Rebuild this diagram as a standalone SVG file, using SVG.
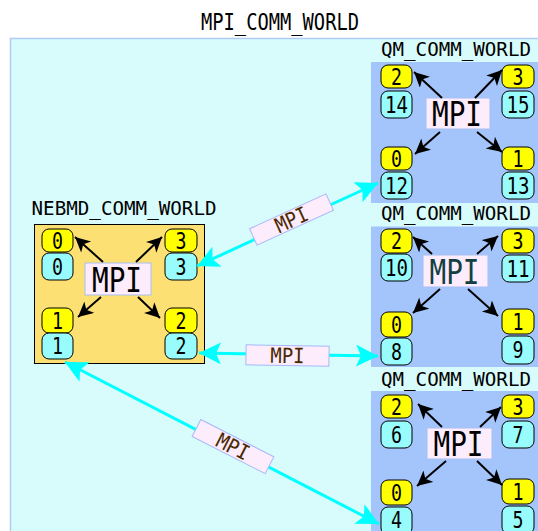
<svg xmlns="http://www.w3.org/2000/svg" width="538" height="531" viewBox="0 0 538 531">
<defs>
<style>
text{font-family:"DejaVu Sans Mono","Liberation Mono",monospace;fill:#000;text-anchor:middle}
.world{fill:#d8fcfc;stroke:#b0ccf4;stroke-width:1.5}
.qm{fill:#a4c4fc}
.neb{fill:#fde073;stroke:#000;stroke-width:1}
.y{fill:#ffff00;stroke:#000;stroke-width:1}
.c{fill:#98fcfc;stroke:#000;stroke-width:1}
.mpi{fill:#fcecfc;stroke:#a8c0f0;stroke-width:1}
.lbl{fill:#fcecfc;stroke:#a8b8f8;stroke-width:1}
.t20{font-size:20px}
.d{font-size:23px}
.big{font-size:34px}
.lt{font-size:21px;fill:#4a2800}
.blk{stroke:#000;stroke-width:2;fill:none;marker-end:url(#ah)}
.cy{stroke:#00ffff;stroke-width:3;fill:none;marker-start:url(#ch);marker-end:url(#ch)}
</style>
<marker id="ah" markerUnits="userSpaceOnUse" markerWidth="16" markerHeight="16" refX="15" refY="7.5" orient="auto">
<path d="M0,0 L15,7.5 L0,15 L4,7.5 Z" fill="#000"/>
</marker>
<marker id="ch" markerUnits="userSpaceOnUse" markerWidth="24" markerHeight="24" refX="22" refY="11" orient="auto-start-reverse">
<path d="M0,0 L22,11 L0,22 L5,11 Z" fill="#00ffff"/>
</marker>
</defs>

<g id="mpi-comm-world">
<rect class="world" x="10.5" y="38.5" width="540" height="500"/>
<text x="280" y="30" style="font-size:23px" textLength="158" lengthAdjust="spacingAndGlyphs">MPI_COMM_WORLD</text>
</g>

<g id="qm1">
<text class="t20" x="456" y="56" textLength="150" lengthAdjust="spacingAndGlyphs">QM_COMM_WORLD</text>
<rect class="qm" x="371" y="62" width="170" height="141"/>
<rect class="y" x="381" y="65" width="31" height="23" rx="7"/><text class="d" x="396.5" y="84.6" textLength="11" lengthAdjust="spacingAndGlyphs">2</text>
<rect class="c" x="381" y="91" width="31" height="27" rx="7"/><text class="d" x="396.5" y="112.6" textLength="23" lengthAdjust="spacingAndGlyphs">14</text>
<rect class="y" x="502" y="65" width="32" height="23" rx="7"/><text class="d" x="518" y="84.6" textLength="11" lengthAdjust="spacingAndGlyphs">3</text>
<rect class="c" x="502" y="91" width="32" height="27" rx="7"/><text class="d" x="518" y="112.6" textLength="23" lengthAdjust="spacingAndGlyphs">15</text>
<rect class="mpi" x="426" y="98" width="64" height="31"/><text class="big" x="457" y="126" textLength="50" lengthAdjust="spacingAndGlyphs">MPI</text>
<rect class="y" x="381" y="147" width="31" height="23" rx="7"/><text class="d" x="396.5" y="166.6" textLength="11" lengthAdjust="spacingAndGlyphs">0</text>
<rect class="c" x="381" y="172" width="31" height="27" rx="7"/><text class="d" x="396.5" y="193.6" textLength="23" lengthAdjust="spacingAndGlyphs">12</text>
<rect class="y" x="502" y="147" width="32" height="23" rx="7"/><text class="d" x="518" y="166.6" textLength="11" lengthAdjust="spacingAndGlyphs">1</text>
<rect class="c" x="502" y="172" width="32" height="27" rx="7"/><text class="d" x="518" y="193.6" textLength="23" lengthAdjust="spacingAndGlyphs">13</text>
</g>

<g id="qm2">
<text class="t20" x="456" y="220" textLength="150" lengthAdjust="spacingAndGlyphs">QM_COMM_WORLD</text>
<rect class="qm" x="371" y="226.5" width="170" height="140.5"/>
<rect class="y" x="381" y="229" width="31" height="24" rx="7"/><text class="d" x="396.5" y="249.1" textLength="11" lengthAdjust="spacingAndGlyphs">2</text>
<rect class="c" x="381" y="254" width="31" height="27" rx="7"/><text class="d" x="396.5" y="275.6" textLength="23" lengthAdjust="spacingAndGlyphs">10</text>
<rect class="y" x="502" y="229" width="32" height="24" rx="7"/><text class="d" x="518" y="249.1" textLength="11" lengthAdjust="spacingAndGlyphs">3</text>
<rect class="c" x="502" y="255" width="32" height="27" rx="7"/><text class="d" x="518" y="276.6" textLength="23" lengthAdjust="spacingAndGlyphs">11</text>
<rect class="mpi" x="423" y="255" width="65" height="32"/><text class="big" x="454.5" y="284" textLength="50" lengthAdjust="spacingAndGlyphs" style="fill:#123f3f">MPI</text>
<rect class="y" x="381" y="312" width="31" height="25" rx="7"/><text class="d" x="396.5" y="332.6" textLength="11" lengthAdjust="spacingAndGlyphs">0</text>
<rect class="c" x="381" y="338" width="31" height="27" rx="7"/><text class="d" x="396.5" y="359.6" textLength="11" lengthAdjust="spacingAndGlyphs">8</text>
<rect class="y" x="502" y="309" width="32" height="25" rx="7"/><text class="d" x="518" y="329.6" textLength="11" lengthAdjust="spacingAndGlyphs">1</text>
<rect class="c" x="502" y="336" width="32" height="28" rx="7"/><text class="d" x="518" y="358.1" textLength="11" lengthAdjust="spacingAndGlyphs">9</text>
</g>

<g id="qm3">
<text class="t20" x="456" y="386" textLength="150" lengthAdjust="spacingAndGlyphs">QM_COMM_WORLD</text>
<rect class="qm" x="371" y="391" width="170" height="145"/>
<rect class="y" x="381" y="395" width="31" height="23" rx="7"/><text class="d" x="396.5" y="414.6" textLength="11" lengthAdjust="spacingAndGlyphs">2</text>
<rect class="c" x="381" y="421" width="31" height="27" rx="7"/><text class="d" x="396.5" y="442.6" textLength="11" lengthAdjust="spacingAndGlyphs">6</text>
<rect class="y" x="502" y="395" width="32" height="23" rx="7"/><text class="d" x="518" y="414.6" textLength="11" lengthAdjust="spacingAndGlyphs">3</text>
<rect class="c" x="502" y="421" width="32" height="27" rx="7"/><text class="d" x="518" y="442.6" textLength="11" lengthAdjust="spacingAndGlyphs">7</text>
<rect class="mpi" x="427" y="428" width="65" height="31"/><text class="big" x="458.5" y="456" textLength="50" lengthAdjust="spacingAndGlyphs">MPI</text>
<rect class="y" x="381" y="480" width="31" height="25" rx="7"/><text class="d" x="396.5" y="500.6" textLength="11" lengthAdjust="spacingAndGlyphs">0</text>
<rect class="c" x="381" y="507" width="31" height="28" rx="7"/><text class="d" x="396.5" y="527.5" textLength="11" lengthAdjust="spacingAndGlyphs">4</text>
<rect class="y" x="502" y="479" width="32" height="25" rx="7"/><text class="d" x="518" y="499.6" textLength="11" lengthAdjust="spacingAndGlyphs">1</text>
<rect class="c" x="502" y="506" width="32" height="28" rx="7"/><text class="d" x="518" y="527.5" textLength="11" lengthAdjust="spacingAndGlyphs">5</text>
</g>

<g id="nebmd">
<text class="t20" x="124" y="215" textLength="185" lengthAdjust="spacingAndGlyphs">NEBMD_COMM_WORLD</text>
<rect class="neb" x="34.5" y="224.5" width="170" height="139"/>
<rect class="y" x="42" y="229" width="31" height="23" rx="7"/><text class="d" x="57.5" y="248.6" textLength="11" lengthAdjust="spacingAndGlyphs">0</text>
<rect class="c" x="42" y="253" width="31" height="27" rx="7"/><text class="d" x="57.5" y="274.6" textLength="11" lengthAdjust="spacingAndGlyphs">0</text>
<rect class="y" x="165" y="229" width="32" height="23" rx="7"/><text class="d" x="181" y="248.6" textLength="11" lengthAdjust="spacingAndGlyphs">3</text>
<rect class="c" x="165" y="253" width="32" height="27" rx="7"/><text class="d" x="181" y="274.6" textLength="11" lengthAdjust="spacingAndGlyphs">3</text>
<rect class="mpi" x="85" y="263" width="66" height="32"/><text class="big" x="117" y="291.5" textLength="50" lengthAdjust="spacingAndGlyphs">MPI</text>
<rect class="y" x="42" y="308" width="31" height="25" rx="7"/><text class="d" x="57.5" y="328.6" textLength="11" lengthAdjust="spacingAndGlyphs">1</text>
<rect class="c" x="42" y="333" width="31" height="26" rx="7"/><text class="d" x="57.5" y="354.1" textLength="11" lengthAdjust="spacingAndGlyphs">1</text>
<rect class="y" x="165" y="308" width="32" height="25" rx="7"/><text class="d" x="181" y="328.6" textLength="11" lengthAdjust="spacingAndGlyphs">2</text>
<rect class="c" x="165" y="333" width="32" height="26" rx="7"/><text class="d" x="181" y="354.1" textLength="11" lengthAdjust="spacingAndGlyphs">2</text>
</g>

<g id="connectors">
<path class="blk" d="M103,262 L75,237"/>
<path class="blk" d="M136,262 L162,237"/>
<path class="blk" d="M101,297 L78,317"/>
<path class="blk" d="M138,297 L160,318"/>
<path class="blk" d="M442,98 L414,72"/>
<path class="blk" d="M475,98 L502,70"/>
<path class="blk" d="M440,132 L415,154"/>
<path class="blk" d="M477,132 L502,152"/>
<path class="blk" d="M432,254 L413,237"/>
<path class="blk" d="M477,254 L498,236"/>
<path class="blk" d="M440,289 L413,313"/>
<path class="blk" d="M468,289 L498,316"/>
<path class="blk" d="M442,427 L418,404"/>
<path class="blk" d="M480,427 L501,407"/>
<path class="blk" d="M446,461 L417,486"/>
<path class="blk" d="M477,461 L502,485"/>
<path class="cy" d="M197,266 L378,183"/>
<path class="cy" d="M199,353 L378,356"/>
<path class="cy" d="M65,362 L379,524"/>
<g transform="translate(291.5,219.5) rotate(-24.6)"><rect class="lbl" x="-42" y="-9" width="84" height="18"/><text class="lt" x="0" y="7.5" textLength="34" lengthAdjust="spacingAndGlyphs">MPI</text></g>
<g transform="translate(287.5,355.5) rotate(1)"><rect class="lbl" x="-41.5" y="-10" width="83" height="20"/><text class="lt" x="0" y="7.5" textLength="34" lengthAdjust="spacingAndGlyphs">MPI</text></g>
<g transform="translate(233,446.6) rotate(27)"><rect class="lbl" x="-41" y="-9.5" width="82" height="19"/><text class="lt" x="0" y="7.5" textLength="34" lengthAdjust="spacingAndGlyphs">MPI</text></g>
</g>
</svg>
